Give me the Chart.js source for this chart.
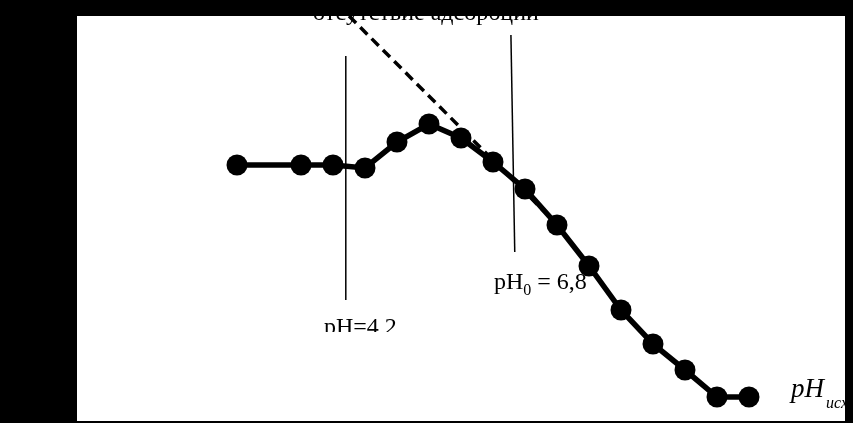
<!DOCTYPE html>
<html>
<head>
<meta charset="utf-8">
<script src="https://cdn.jsdelivr.net/npm/chart.js@4"></script>
<style>
  html, body { margin: 0; padding: 0; background: #000; }
  canvas { display: block; }
</style>
</head>
<body>
<canvas id="chart" width="853" height="423"></canvas>
<script>
// pH исходный и изменение pH (оценка по рисунку)
const phInitial = [2.5, 3.5, 4, 4.5, 5, 5.5, 6, 6.5, 7, 7.5, 8, 8.5, 9, 9.5, 10, 10.5];
const deltaPh = [0.11, 0.11, 0.11, 0.08, 0.34, 0.52, 0.38, 0.14, -0.13, -0.49, -0.90, -1.34, -1.68, -1.94, -2.21, -2.21];

// пунктир "отсутствие адсорбции"
const noAdsX = [4.25, 7.31];
const noAdsY = [1.6, -0.36];

// вертикальные отметки
const markA = { x: [4.2, 4.2], y: [1.2, -1.24] };
const markB = { x: [6.78, 6.84], y: [1.41, -0.76] };

const xMin = 0, xMax = 12;
const yMin = -2.45, yMax = 1.6;

const serif = '"Liberation Serif", "DejaVu Serif", serif';

const toPoints = (xs, ys) => xs.map((x, i) => ({ x: x, y: ys[i] }));

// фон: черная рамка, белое поле графика
const bgPlugin = {
  id: 'bg',
  beforeDraw(chart) {
    const { ctx, chartArea: a } = chart;
    ctx.save();
    ctx.fillStyle = '#000';
    ctx.fillRect(0, 0, chart.width, chart.height);
    ctx.fillStyle = '#fff';
    ctx.fillRect(a.left, a.top, a.right - a.left, a.bottom - a.top);
    ctx.restore();
  }
};

// подписи
const labelsPlugin = {
  id: 'labels',
  afterDraw(chart) {
    const { ctx, chartArea: a } = chart;
    ctx.save();
    ctx.beginPath();
    ctx.rect(a.left, a.top, a.right - a.left, a.bottom - a.top);
    ctx.clip();
    ctx.fillStyle = '#000';
    ctx.textBaseline = 'alphabetic';

    ctx.font = '24px ' + serif;
    ctx.textAlign = 'center';
    ctx.fillText('отсутствие адсорбции', 426, 20);

    // pH0 = 6,8
    ctx.textAlign = 'left';
    let x = 494;
    ctx.fillText('pH', x, 289);
    x += ctx.measureText('pH').width;
    ctx.font = '16px ' + serif;
    ctx.fillText('0', x, 295);
    x += ctx.measureText('0').width;
    ctx.font = '24px ' + serif;
    ctx.fillText(' = 6,8', x, 289);

    // pH=4,2 (обрезано снизу)
    ctx.save();
    ctx.beginPath();
    ctx.rect(300, 300, 120, 32);
    ctx.clip();
    ctx.fillText('pH=4,2', 324, 334);
    ctx.restore();

    // pH исх
    ctx.font = 'italic 27px ' + serif;
    x = 791;
    ctx.fillText('pH', x, 397);
    x += ctx.measureText('pH').width + 2;
    ctx.font = 'italic 16px ' + serif;
    ctx.fillText('исх', x, 408);

    ctx.restore();
  }
};

new Chart(document.getElementById('chart'), {
  type: 'line',
  data: {
    datasets: [
      {
        data: toPoints(phInitial, deltaPh),
        borderColor: '#000',
        backgroundColor: '#000',
        borderWidth: 5.5,
        pointRadius: 10.5,
        pointBackgroundColor: '#000',
        pointBorderWidth: 0,
        tension: 0,
        order: 0
      },
      {
        data: toPoints(noAdsX, noAdsY),
        borderColor: '#000',
        borderWidth: 3.5,
        borderDash: [10, 6],
        pointRadius: 0,
        order: 1
      },
      {
        data: toPoints(markA.x, markA.y),
        borderColor: '#000',
        borderWidth: 1.5,
        pointRadius: 0,
        order: 2
      },
      {
        data: toPoints(markB.x, markB.y),
        borderColor: '#000',
        borderWidth: 1.5,
        pointRadius: 0,
        order: 2
      }
    ]
  },
  options: {
    responsive: false,
    animation: false,
    layout: { autoPadding: false, padding: { left: 77, top: 16, right: 8, bottom: 2 } },
    plugins: {
      legend: { display: false },
      tooltip: { enabled: false }
    },
    scales: {
      x: { type: 'linear', min: xMin, max: xMax, display: false },
      y: { type: 'linear', min: yMin, max: yMax, display: false }
    }
  },
  plugins: [bgPlugin, labelsPlugin]
});
</script>
</body>
</html>
